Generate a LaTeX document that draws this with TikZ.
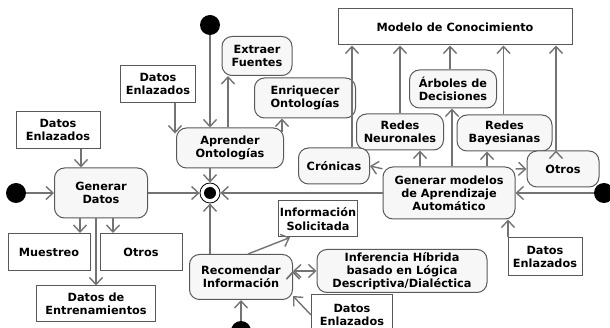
\documentclass[tikz,border=0pt]{standalone}
\usepackage{fontspec}
\setmainfont{DejaVu Sans}
\usetikzlibrary{arrows.meta,positioning,calc}

\begin{document}
\begin{tikzpicture}[x=1pt,y=-1pt,
  >={Straight Barb[length=7pt,width=13pt]},
  act/.style={draw=black!65,fill=black!3,line width=1pt,rounded corners=10pt,align=center,inner sep=1pt,font=\bfseries\fontsize{11.3}{13.2}\selectfont},
  dat/.style={draw=black!65,fill=white,line width=1pt,align=center,inner sep=1pt,font=\bfseries\fontsize{11.3}{13.2}\selectfont},
  ini/.style={circle,fill=black,minimum size=20pt,inner sep=0pt},
  fin/.style={circle,draw=black,line width=0.8pt,fill=white,minimum size=20pt,inner sep=0pt,
    path picture={\fill[black] (path picture bounding box.center) circle (6pt);}},
  flow/.style={draw=black!55,line width=1.4pt}]
\useasboundingbox (0,0) rectangle (610,328);

% inicios y fin
\node[ini] (ini1) at (210,25) {};
\node[ini] (ini2) at (16,193) {};
\node[ini] (ini3) at (241,331) {};
\node[ini] (ini4) at (604,193) {};
\node[fin] (fin) at (210,193) {};

% lado izquierdo
\node[act,minimum width=70pt,minimum height=39pt] (ef) at (257,56) {Extraer\\Fuentes};
\node[act,minimum width=101pt,minimum height=40pt] (eo) at (305,98) {Enriquecer\\Ontologías};
\node[dat,minimum width=75pt,minimum height=37pt] (de1) at (158,84) {Datos\\Enlazados};
\node[act,minimum width=107pt,minimum height=40pt] (ao) at (230,148) {Aprender\\Ontologías};
\node[dat,minimum width=84pt,minimum height=37pt] (de2) at (58,130) {Datos\\Enlazados};
\node[act,minimum width=93pt,minimum height=50pt] (gd) at (101,193) {Generar\\Datos};
\node[dat,minimum width=82pt,minimum height=37pt] (mu) at (49,252) {Muestreo};
\node[dat,minimum width=82pt,minimum height=37pt] (ot1) at (141,252) {Otros};
\node[dat,minimum width=119pt,minimum height=36pt] (dt) at (96,304) {Datos de\\Entrenamientos};

% recomendacion
\node[act,minimum width=103pt,minimum height=45pt] (ri) at (241,277) {Recomendar\\Información};
\node[dat,minimum width=77pt,minimum height=36pt] (is) at (318,219) {Información\\Solicitada};
\node[act,minimum width=170pt,minimum height=43pt] (ih) at (402,271) {Inferencia Híbrida\\basado en Lógica\\Descriptiva/Dialéctica};
\node[dat,minimum width=81pt,minimum height=40pt] (de3) at (352,315) {Datos\\Enlazados};

% modelos
\node[dat,minimum width=234pt,minimum height=36pt] (mc) at (455,27) {Modelo de Conocimiento};
\node[act,minimum width=87pt,minimum height=38pt] (ad) at (453,89) {Árboles de\\Decisiones};
\node[act,minimum width=87pt,minimum height=36pt] (rn) at (400,132) {Redes\\Neuronales};
\node[act,minimum width=95pt,minimum height=36pt] (rb) at (504.5,133) {Redes\\Bayesianas};
\node[act,minimum width=71pt,minimum height=36pt] (cr) at (334,166) {Crónicas};
\node[act,minimum width=72pt,minimum height=36pt] (ot2) at (563,169) {Otros};
\node[act,minimum width=132pt,minimum height=52pt] (gm) at (449,193) {Generar modelos\\de Aprendizaje\\Automático};
\node[dat,minimum width=74pt,minimum height=38pt] (de4) at (545,257) {Datos\\Enlazados};

\path[flow,->]
(ini1) edge ([xshift=-20pt]ao.north)
([xshift=-2pt]ao.north) edge ([xshift=-2pt]ao.north |- ef.south)
([xshift=52pt,yshift=-5pt]ao.north) edge ([xshift=52pt]ao.north |- eo.south)
([xshift=17pt]de1.south) edge ([xshift=17pt]de1.south |- ao.165)
([xshift=23pt]de2.south) edge ([xshift=23pt]de2.south |- gd.north)
(ini2) edge (gd.west)
(gd) edge (fin)
(gm) edge (fin)
([xshift=-20pt]ao.south) edge (fin)
([xshift=-31pt]ri.north) edge (fin)
([xshift=-21pt]gd.south) edge ([xshift=-21pt]gd.south |- mu.north)
([xshift=12pt]gd.south) edge ([xshift=12pt]gd.south |- ot1.north)
([xshift=-5pt]gd.south) edge ([xshift=-5pt]gd.south |- dt.north)
([xshift=7pt]ri.north) edge ([xshift=-28pt]is.south)
(de3.west) edge ([yshift=4pt]ri.south east)
(ini3) edge (ri.south)
(gm.160) edge (cr.east)
([xshift=-29pt]gm.north) edge ([xshift=-29pt]gm.north |- rn.south)
([xshift=3pt]gm.north) edge ([xshift=3pt]gm.north |- ad.south)
([xshift=38pt]gm.north) edge ([xshift=38pt]gm.north |- rb.south)
(gm.20) edge (ot2.west)
(ini4) edge (gm.east)
([xshift=-37pt]de4.north) edge ([xshift=-37pt]de4.north |- gm.south)
([xshift=18pt]cr.north) edge ([xshift=18pt]cr.north |- mc.south)
(rn.north) edge (rn.north |- mc.south)
([xshift=-3pt]ad.north) edge ([xshift=-3pt]ad.north |- mc.south)
([xshift=-1pt]rb.north) edge ([xshift=-1pt]rb.north |- mc.south)
([xshift=-7pt]ot2.north) edge ([xshift=-7pt]ot2.north |- mc.south)
;
\path[flow,<->]
(ri.east |- ih.west) edge (ih.west)
;
\end{tikzpicture}
\end{document}
